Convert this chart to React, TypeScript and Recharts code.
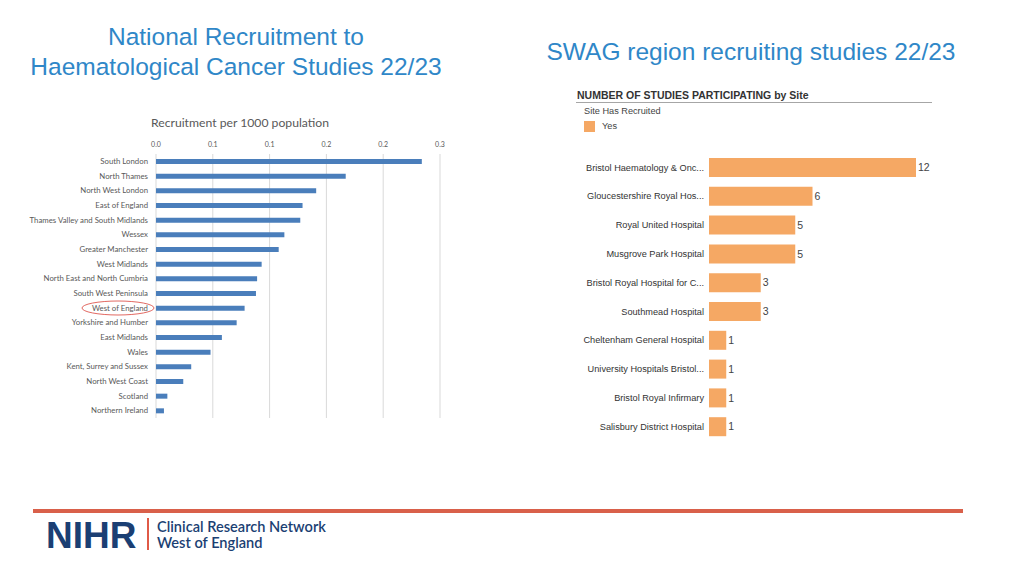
import React from 'react';
import { BarChart, Bar, XAxis, YAxis, CartesianGrid, LabelList } from 'recharts';

// left chart: recruitment per 1000 population by network
const REGIONS = [
  'South London', 'North Thames', 'North West London', 'East of England',
  'Thames Valley and South Midlands', 'Wessex', 'Greater Manchester', 'West Midlands',
  'North East and North Cumbria', 'South West Peninsula', 'West of England',
  'Yorkshire and Humber', 'East Midlands', 'Wales', 'Kent, Surrey and Sussex',
  'North West Coast', 'Scotland', 'Northern Ireland',
];
const RECRUITMENT = [
  0.234, 0.167, 0.141, 0.129, 0.127, 0.113, 0.108, 0.093, 0.089,
  0.088, 0.078, 0.071, 0.058, 0.048, 0.031, 0.024, 0.010, 0.007,
];
const RATE_TICKS = [0, 0.05, 0.1, 0.15, 0.2, 0.25];
const RATE_TICK_LABELS = ['0.0', '0.1', '0.1', '0.2', '0.2', '0.3'];
const HIGHLIGHT = 'West of England';

// right chart: number of studies by site
const SITES = [
  'Bristol Haematology & Onc...', 'Gloucestershire Royal Hos...', 'Royal United Hospital',
  'Musgrove Park Hospital', 'Bristol Royal Hospital for C...', 'Southmead Hospital',
  'Cheltenham General Hospital', 'University Hospitals Bristol...', 'Bristol Royal Infirmary',
  'Salisbury District Hospital',
];
const STUDIES = [12, 6, 5, 5, 3, 3, 1, 1, 1, 1];

const BLUE_TITLE = '#2f87c8';
const NAVY = '#1b3f73';
const SANS = '"Liberation Sans", Arial, sans-serif';

const RegionTick = (props: any) => {
  const { x, y, payload } = props;
  const hi = payload.value === HIGHLIGHT;
  return (
    <g>
      {hi && <ellipse cx={x - 30} cy={y} rx={36} ry={7} fill="none" stroke="#d9423a" strokeWidth={0.8} />}
      <text x={x} y={y} dy="0.35em" textAnchor="end" fontSize={7.8} fill="#595959" fontFamily="Lato, sans-serif">
        {payload.value}
      </text>
    </g>
  );
};

const SiteTick = (props: any) => {
  const { x, y, payload } = props;
  return (
    <text x={x} y={y} dy="0.35em" textAnchor="end" fontSize={9.2} fill="#333" fontFamily={SANS}>
      {payload.value}
    </text>
  );
};

export default function App() {
  const regionData = REGIONS.map((name, i) => ({ name, value: RECRUITMENT[i] }));
  const siteData = SITES.map((name, i) => ({ name, value: STUDIES[i] }));

  return (
    <div style={{ position: 'absolute', left: 0, top: 0, width: 1024, height: 576, background: '#fff', fontFamily: SANS, overflow: 'hidden' }}>
      {/* slide titles */}
      <div style={{ position: 'absolute', left: 0, width: 472, top: 22, textAlign: 'center', color: BLUE_TITLE, fontSize: 24.5, lineHeight: '30px' }}>
        National Recruitment to<br />Haematological Cancer Studies 22/23
      </div>
      <div style={{ position: 'absolute', left: 520, width: 462, top: 37, textAlign: 'center', color: BLUE_TITLE, fontSize: 24.5, lineHeight: '30px' }}>
        SWAG region recruiting studies 22/23
      </div>

      {/* left chart */}
      <div style={{ position: 'absolute', left: 0, width: 480, top: 115, textAlign: 'center', fontFamily: 'Lato, sans-serif', fontSize: 12.2, color: '#595959' }}>
        Recruitment per 1000 population
      </div>
      <div style={{ position: 'absolute', left: 0, top: 130 }}>
        <BarChart width={460} height={290} data={regionData} layout="vertical" margin={{ top: 0, right: 20, bottom: 2, left: 0 }}>
          <CartesianGrid horizontal={false} stroke="#d9d9d9" />
          <XAxis
            type="number"
            orientation="top"
            domain={[0, 0.25]}
            ticks={RATE_TICKS}
            height={24}
            axisLine={false}
            tickLine={false}
            tickSize={0}
            tickMargin={7}
            tick={{ fontSize: 7, fill: '#595959', fontFamily: 'Lato, sans-serif' }}
            tickFormatter={(v: number, i: number) => RATE_TICK_LABELS[i]}
            interval={0}
          />
          <YAxis
            type="category"
            dataKey="name"
            width={156}
            axisLine={false}
            tickLine={false}
            tickSize={0}
            tickMargin={8}
            interval={0}
            tick={<RegionTick />}
          />
          <Bar dataKey="value" fill="#4a7ebb" barSize={5} isAnimationActive={false} />
        </BarChart>
      </div>

      {/* right chart */}
      <div style={{ position: 'absolute', left: 577, top: 89, fontSize: 10.5, fontWeight: 'bold', color: '#333' }}>
        NUMBER OF STUDIES PARTICIPATING by Site
      </div>
      <div style={{ position: 'absolute', left: 576, top: 102, width: 356, height: 1, background: '#a6a6a6' }} />
      <div style={{ position: 'absolute', left: 584, top: 106, fontSize: 9.2, color: '#444' }}>Site Has Recruited</div>
      <div style={{ position: 'absolute', left: 584, top: 121, width: 11, height: 11, background: '#f5a864' }} />
      <div style={{ position: 'absolute', left: 602, top: 121, fontSize: 9.2, color: '#444' }}>Yes</div>
      <div style={{ position: 'absolute', left: 570, top: 150 }}>
        <BarChart width={380} height={291} data={siteData} layout="vertical" margin={{ top: 3, right: 34, bottom: 0, left: 0 }}>
          <XAxis type="number" domain={[0, 12]} hide />
          <YAxis
            type="category"
            dataKey="name"
            width={139}
            axisLine={false}
            tickLine={false}
            tickSize={0}
            tickMargin={5}
            interval={0}
            tick={<SiteTick />}
          />
          <Bar dataKey="value" fill="#f5a864" barSize={19} isAnimationActive={false}>
            <LabelList dataKey="value" position="right" offset={2} fontSize={10.5} fill="#444" />
          </Bar>
        </BarChart>
      </div>

      {/* footer */}
      <div style={{ position: 'absolute', left: 33, top: 509, width: 930, height: 4, background: '#d9604a' }} />
      <div style={{ position: 'absolute', left: 46, top: 514, fontSize: 37, fontWeight: 'bold', color: NAVY, lineHeight: '44px' }}>NIHR</div>
      <div style={{ position: 'absolute', left: 147, top: 518, width: 2, height: 32, background: '#e05a47' }} />
      <div style={{ position: 'absolute', left: 157, top: 519, fontSize: 14.6, fontWeight: 600, color: NAVY, lineHeight: '16px', fontFamily: 'Lato, sans-serif' }}>
        Clinical Research Network<br />West of England
      </div>
    </div>
  );
}
